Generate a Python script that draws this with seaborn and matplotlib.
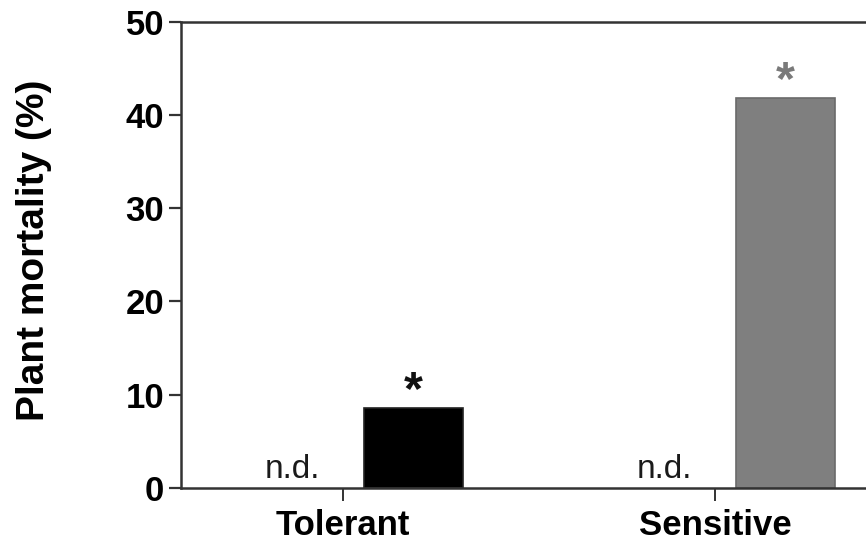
import matplotlib
matplotlib.use("Agg")
import matplotlib.pyplot as plt
import seaborn as sns
import pandas as pd

# Plant mortality per genotype group and treatment
groups = ["Tolerant", "Sensitive"]
treatments = ["Control", "Treated"]
control_mortality = [0.0, 0.0]
treated_mortality = [8.6, 41.8]
bar_colors = ["#000000", "#7f7f7f"]
star_colors = ["#111111", "#7a7a7a"]
y_ticks = [0, 10, 20, 30, 40, 50]

df = pd.DataFrame({
    "group": groups * 2,
    "treatment": [treatments[0]] * 2 + [treatments[1]] * 2,
    "mortality": control_mortality + treated_mortality,
})

sns.set_style("ticks")
plt.rcParams["font.family"] = ["Liberation Sans", "DejaVu Sans"]

fig = plt.figure(figsize=(8.66, 5.44), dpi=100)
ax = fig.add_axes([0.209, 0.103, 0.8744, 0.857])

sns.barplot(data=df, x="group", y="mortality", hue="treatment",
            order=groups, hue_order=treatments, width=0.76, gap=0.3,
            palette=["white", "black"], legend=False, ax=ax)

# colour the treated bars per group
treated_bars = ax.containers[1]
for bar, col in zip(treated_bars, bar_colors):
    bar.set_facecolor(col)
    bar.set_edgecolor("#222222" if col == "#000000" else "#6a6a6a")
    bar.set_linewidth(1.2)
for bar in ax.containers[0]:
    bar.set_visible(False)

# significance stars and "not detected" labels
for i, bar in enumerate(treated_bars):
    cx = bar.get_x() + bar.get_width() / 2
    ax.text(cx, bar.get_height() + 0.45, "*", ha="center", va="baseline",
            fontsize=35, fontweight="bold", color=star_colors[i])
for i, bar in enumerate(ax.containers[0]):
    cx = bar.get_x() + bar.get_width() / 2 + 0.055
    ax.text(cx, 0.3, "n.d.", ha="center", va="bottom",
            fontsize=24, color="#1a1a1a")

ax.set_xlim(-0.435, 1.6)
ax.set_ylim(0, 50)
ax.set_yticks(y_ticks)
ax.set_yticklabels([str(t) for t in y_ticks])
ax.set_xlabel("")
ax.set_ylabel("Plant mortality (%)", fontsize=28, fontweight="bold",
              color="black")
ax.yaxis.set_label_coords(-0.171, 0.51)

for side in ["left", "top", "bottom"]:
    ax.spines[side].set_linewidth(1.8)
    ax.spines[side].set_color("#333333")
ax.spines["right"].set_visible(False)

ax.tick_params(axis="y", length=9, width=1.6, color="#333333", pad=3,
               labelsize=25, labelcolor="black")
ax.tick_params(axis="x", length=9, width=1.4, color="#333333", pad=6,
               labelsize=25, labelcolor="black")
for lab in ax.get_yticklabels() + ax.get_xticklabels():
    lab.set_fontweight("bold")

fig.savefig("out.png", dpi=100)
